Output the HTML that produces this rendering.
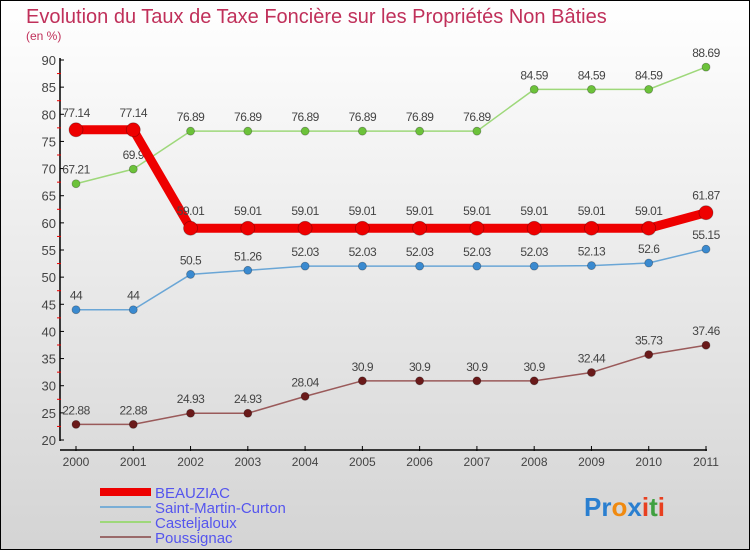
<!DOCTYPE html>
<html><head><meta charset="utf-8"><style>
body{margin:0;}
#c{width:750px;height:550px;position:relative;box-sizing:border-box;border:1px solid #000;background:linear-gradient(#ffffff,#d4d4d4);font-family:"Liberation Sans",sans-serif;overflow:hidden;}
</style></head><body>
<div id="c">
<svg width="750" height="550" style="position:absolute;left:-1px;top:-1px" id="svg">
<text x="26" y="23" font-size="20" fill="#c0305a">Evolution du Taux de Taxe Foncière sur les Propriétés Non Bâties</text>
<text x="26" y="40" font-size="12" fill="#c0305a">(en %)</text>
<g id="axes"></g><g id="series"></g><g id="legend"></g>
<text x="584" y="516" font-size="26" font-weight="bold"><tspan fill="#2a7fd0">Pr</tspan><tspan fill="#f08a10">o</tspan><tspan fill="#2a7fd0">x</tspan><tspan fill="#e84020">i</tspan><tspan fill="#40a040">t</tspan><tspan fill="#e84020">i</tspan></text>
</svg>
</div>
<script>
const years=["2000","2001","2002","2003","2004","2005","2006","2007","2008","2009","2010","2011"];
const beauziac=[77.14,77.14,59.01,59.01,59.01,59.01,59.01,59.01,59.01,59.01,59.01,61.87];
const saintMartin=[44,44,50.5,51.26,52.03,52.03,52.03,52.03,52.03,52.13,52.6,55.15];
const casteljaloux=[67.21,69.9,76.89,76.89,76.89,76.89,76.89,76.89,84.59,84.59,84.59,88.69];
const poussignac=[22.88,22.88,24.93,24.93,28.04,30.9,30.9,30.9,30.9,32.44,35.73,37.46];
const yTicks=[20,25,30,35,40,45,50,55,60,65,70,75,80,85,90];
const NS="http://www.w3.org/2000/svg";
const xs=i=>76+i*(630/11);
const ys=v=>440-(v-20)*(380/70);
function mk(tag,at,parent){const e=document.createElementNS(NS,tag);for(const k in at)e.setAttribute(k,at[k]);parent.appendChild(e);return e;}
const ax=document.getElementById('axes');
let e=mk('line',{x1:60,y1:58,x2:60,y2:441,stroke:'#000','stroke-width':1.5},ax);


e=mk('line',{x1:60,y1:450,x2:707,y2:450,stroke:'#000','stroke-width':1.5},ax);


yTicks.forEach((t,i)=>{
  mk('line',{x1:60,y1:ys(t),x2:64,y2:ys(t),stroke:'#000'},ax);
  if(i<yTicks.length-1)mk('line',{x1:57,y1:ys(t+2.5),x2:61,y2:ys(t+2.5),stroke:'#e00'},ax);
  const tx=mk('text',{x:56,y:ys(t)+5,'font-size':13,fill:'#444','text-anchor':'end'},ax);
  tx.textContent=t;
  
  
});
years.forEach((y,i)=>{
  mk('line',{x1:xs(i),y1:446,x2:xs(i),y2:451,stroke:'#000'},ax);
  const tx=mk('text',{x:xs(i),y:466,'font-size':12,fill:'#444','text-anchor':'middle'},ax);
  tx.textContent=y;
  
  
});
const sg=document.getElementById('series');
function series(name,vals,color,dot,w,r){
  const g=mk('g',{},sg);
  
  
  const pl=mk('polyline',{points:vals.map((v,i)=>xs(i)+','+ys(v)).join(' '),fill:'none',stroke:color,'stroke-width':w,'stroke-linejoin':'round'},g);
  
  
  vals.forEach((v,i)=>{
    const c=mk('circle',{cx:xs(i),cy:ys(v),r:r,fill:dot,stroke:'rgba(0,0,0,0.3)','stroke-width':0.8},g);
    
    
    const t=mk('text',{x:xs(i),y:ys(v)-(r+6),'font-size':12,fill:'#444','text-anchor':'middle','letter-spacing':'-0.5'},g);
    t.textContent=String(v).replace(/\.?0+$/,'');
    
    
  });
}
series('casteljaloux',casteljaloux,'#9ed87a','#6cc23a',1.5,4);
series('saint-martin-curton',saintMartin,'#6aa6d6','#3a8ad0',1.5,4);
series('poussignac',poussignac,'#9a5a5a','#6a1a1a',1.5,4);
series('beauziac',beauziac,'#ee0000','#ee0000',9,7);
const lg=document.getElementById('legend');
[['BEAUZIAC','#ee0000',8],['Saint-Martin-Curton','#7aaed6',2],['Casteljaloux','#9ed87a',2],['Poussignac','#9a6a6a',2]].forEach((d,i)=>{
  const y=492+i*15;
  const g=mk('g',{},lg);
  
  
  mk('line',{x1:100,y1:y,x2:151,y2:y,stroke:d[1],'stroke-width':d[2]},g);
  const t=mk('text',{x:155,y:y+6,'font-size':15,fill:'#5555ee'},g);
  t.textContent=d[0];
});
</script>
</body></html>
